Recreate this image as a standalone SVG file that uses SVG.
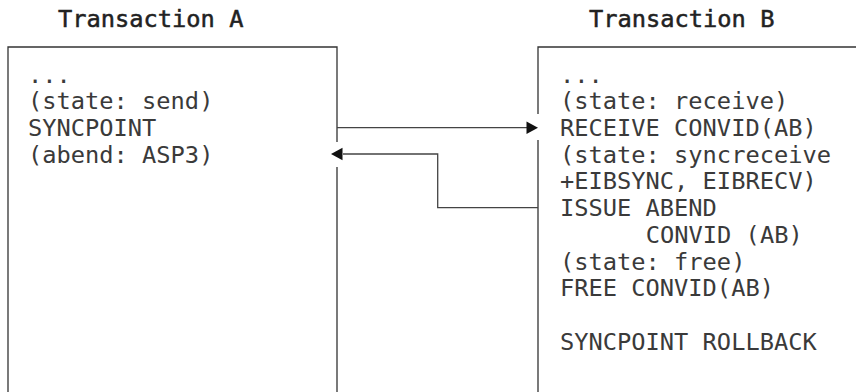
<svg xmlns="http://www.w3.org/2000/svg" width="856" height="392" viewBox="0 0 856 392">
<style>
.t{font-family:"DejaVu Sans Mono","Liberation Mono",monospace;font-size:23.7px;fill:#3a3a3a}
.h{font-family:"DejaVu Sans Mono","Liberation Mono",monospace;font-size:23.7px;fill:#222;stroke:#222;stroke-width:0.5}
.box{fill:none;stroke:#333;stroke-width:1.3}
.ln{fill:none;stroke:#444;stroke-width:1.3}
.ah{fill:#111}
</style>
<rect width="856" height="392" fill="#fff"/>
<g id="transaction-a">
<text class="h" x="58" y="27">Transaction A</text>
<path class="box" d="M8,392 V47 H337 V142 M337,167 V392"/>
<text class="t" x="28" y="82.6">...</text>
<text class="t" x="28" y="109.3">(state: send)</text>
<text class="t" x="28" y="136">SYNCPOINT</text>
<text class="t" x="28" y="162.7">(abend: ASP3)</text>
</g>
<g id="transaction-b">
<text class="h" x="589" y="27">Transaction B</text>
<path class="box" d="M538,392 V140 M538,114 V47 H856"/>
<text class="t" x="560" y="82.6">...</text>
<text class="t" x="560" y="109.3">(state: receive)</text>
<text class="t" x="560" y="136">RECEIVE CONVID(AB)</text>
<text class="t" x="560" y="162.7">(state: syncreceive</text>
<text class="t" x="560" y="189.4">+EIBSYNC, EIBRECV)</text>
<text class="t" x="560" y="216.1">ISSUE ABEND</text>
<text class="t" x="645.8" y="242.8">CONVID (AB)</text>
<text class="t" x="560" y="269.5">(state: free)</text>
<text class="t" x="560" y="296.2">FREE CONVID(AB)</text>
<text class="t" x="560" y="349.6">SYNCPOINT ROLLBACK</text>
</g>
<g id="connectors">
<path class="ln" d="M337,127.7 H527"/>
<polygon class="ah" points="538,127.7 526.5,121.5 526.5,133.9"/>
<path class="ln" d="M538,207.7 H437.7 V154 H343"/>
<polygon class="ah" points="331,154 342.5,147.8 342.5,160.2"/>
</g>
</svg>
